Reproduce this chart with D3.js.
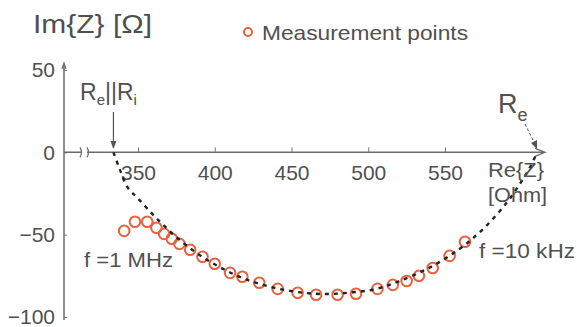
<!DOCTYPE html>
<meta charset="utf-8">
<script src="https://d3js.org/d3.v7.min.js"></script>
<style>
  body { margin: 0; background: #fff; }
  text { font-family: "Liberation Sans", Arial, sans-serif; fill: #505050; }
</style>
<div id="chart"></div>
<script>
// measured impedance points: Re{Z} [Ohm], Im{Z} [Ohm]
var reZ = [341, 348, 356, 362, 367, 372, 377, 384, 392, 400, 410, 418, 429, 441, 454, 466, 480, 492, 506, 516, 525, 533, 542, 553, 563];
var imZ = [-47.7, -42.2, -42.2, -45.8, -49.5, -52.5, -55.6, -59.2, -63.4, -67.7, -73.2, -75.6, -79.2, -82.9, -85.3, -86.5, -86.5, -85.9, -82.9, -80.5, -78.1, -75.0, -70.2, -62.9, -54.3];

// fitted arc (dashed)
var fitRe = [334, 338, 343, 350, 362, 375, 390, 405, 420, 440, 460, 475, 490, 505, 520, 540, 560, 575, 590, 600, 606, 610];
var fitIm = [0, -10, -21, -28, -40, -51.5, -62.3, -70.6, -77, -82.5, -85.5, -86, -85, -83, -78.3, -70, -58.3, -46.4, -30.8, -17.4, -8, 0];

var xTicks = [350, 400, 450, 500, 550];
var yTicks = [50, 0, -50, -100];

var width = 577, height = 327;

var svg = d3.select("#chart").append("svg").attr("width", width).attr("height", height);

var x = d3.scaleLinear().domain([350, 550]).range([138, 445]);
var y = d3.scaleLinear().domain([-100, 50]).range([317, 70]);

var axisX = 64, axisY = y(0);

// y axis
var yAxis = svg.append("g").attr("transform", "translate(" + axisX + ",0)")
  .call(d3.axisLeft(y).tickValues(yTicks).tickSize(-3).tickPadding(9).tickFormat(d3.format("d")));
yAxis.select(".domain").remove();
yAxis.selectAll(".tick line").attr("stroke", "#777");
yAxis.selectAll("text").attr("font-size", 21).attr("font-family", null).style("fill", "#505050");

svg.append("line").attr("x1", axisX).attr("x2", axisX).attr("y1", 320).attr("y2", 64)
  .attr("stroke", "#6a6a6a").attr("stroke-width", 1.5);
svg.append("path").attr("d", "M" + (axisX - 2) + ",69L" + axisX + ",63L" + (axisX + 2) + ",69")
  .attr("fill", "none").attr("stroke", "#6a6a6a").attr("stroke-width", 1.2);

// x axis
var xAxis = svg.append("g").attr("transform", "translate(0," + axisY + ")")
  .call(d3.axisBottom(x).tickValues(xTicks).tickSize(-5).tickPadding(13).tickFormat(d3.format("d")));
xAxis.select(".domain").remove();
xAxis.selectAll(".tick line").attr("stroke", "#777");
xAxis.selectAll("text").attr("font-size", 21).attr("font-family", null).style("fill", "#505050");

svg.append("line").attr("x1", axisX).attr("x2", 543).attr("y1", axisY).attr("y2", axisY)
  .attr("stroke", "#6a6a6a").attr("stroke-width", 1.5);
svg.append("path").attr("d", "M535," + (axisY - 4) + "L545," + axisY + "L535," + (axisY + 4))
  .attr("fill", "none").attr("stroke", "#6a6a6a").attr("stroke-width", 1.3);

// axis break
svg.append("rect").attr("x", 81).attr("y", axisY - 2).attr("width", 6).attr("height", 4).attr("fill", "#fff");
svg.selectAll(".brk").data([80, 87]).enter().append("path")
  .attr("d", function(d) { return "M" + d + "," + (axisY - 5) + "Q" + (d + 3) + "," + axisY + " " + d + "," + (axisY + 5); })
  .attr("fill", "none").attr("stroke", "#6a6a6a").attr("stroke-width", 1.2);

// measurement points
svg.append("g").selectAll("circle").data(reZ).enter().append("circle")
  .attr("cx", function(d) { return x(d); })
  .attr("cy", function(d, i) { return y(imZ[i]); })
  .attr("r", 5.3)
  .attr("fill", "none")
  .attr("stroke", "#e8603f")
  .attr("stroke-width", 2);

// fitted arc
var fitPts = fitRe.map(function(d, i) { return [d, fitIm[i]]; });
svg.append("path").datum(fitPts)
  .attr("d", d3.line().x(function(d) { return x(d[0]); }).y(function(d) { return y(d[1]); }).curve(d3.curveCatmullRom))
  .attr("fill", "none").attr("stroke", "#222").attr("stroke-width", 2.4).attr("stroke-dasharray", "4,5");

// y label
svg.append("text").attr("x", 33).attr("y", 33).attr("font-size", 26)
  .attr("textLength", 119).attr("lengthAdjust", "spacingAndGlyphs").text("Im{Z} [Ω]");

// legend
svg.append("circle").attr("cx", 248).attr("cy", 32).attr("r", 4).attr("fill", "none")
  .attr("stroke", "#e8603f").attr("stroke-width", 2);
svg.append("text").attr("x", 262).attr("y", 40).attr("font-size", 21)
  .attr("textLength", 206).attr("lengthAdjust", "spacingAndGlyphs").text("Measurement points");

// x label
svg.append("text").attr("x", 488).attr("y", 177).attr("font-size", 20)
  .attr("textLength", 56).attr("lengthAdjust", "spacingAndGlyphs").text("Re{Z}");
svg.append("text").attr("x", 488).attr("y", 202).attr("font-size", 20)
  .attr("textLength", 59).attr("lengthAdjust", "spacingAndGlyphs").text("[Ohm]");

// Re||Ri annotation
var t1 = svg.append("text").attr("x", 80).attr("y", 100).attr("font-size", 23);
t1.append("tspan").text("R");
t1.append("tspan").attr("font-size", 15).attr("dy", 5).text("e");
t1.append("tspan").attr("dy", -5).text("||R");
t1.append("tspan").attr("font-size", 15).attr("dy", 5).text("i");
svg.append("line").attr("x1", x(334)).attr("x2", x(334)).attr("y1", 112).attr("y2", 148)
  .attr("stroke", "#555").attr("stroke-width", 1.2);
svg.append("path").attr("d", "M" + (x(334) - 3) + ",141L" + x(334) + ",149L" + (x(334) + 3) + ",141Z")
  .attr("fill", "#555");

// Re annotation
var t2 = svg.append("text").attr("x", 498).attr("y", 113).attr("font-size", 27);
t2.append("tspan").text("R");
t2.append("tspan").attr("font-size", 18).attr("dy", 8).text("e");
svg.append("line").attr("x1", 525).attr("y1", 124).attr("x2", 536).attr("y2", 146)
  .attr("stroke", "#555").attr("stroke-width", 1).attr("stroke-dasharray", "3,2");
svg.append("path").attr("d", "M531,143L537,149L537,140Z").attr("fill", "#555");

// frequency labels
svg.append("text").attr("x", 84).attr("y", 267).attr("font-size", 21)
  .attr("textLength", 89).attr("lengthAdjust", "spacingAndGlyphs").text("f =1 MHz");
svg.append("text").attr("x", 479).attr("y", 258).attr("font-size", 21)
  .attr("textLength", 96).attr("lengthAdjust", "spacingAndGlyphs").text("f =10 kHz");
</script>
